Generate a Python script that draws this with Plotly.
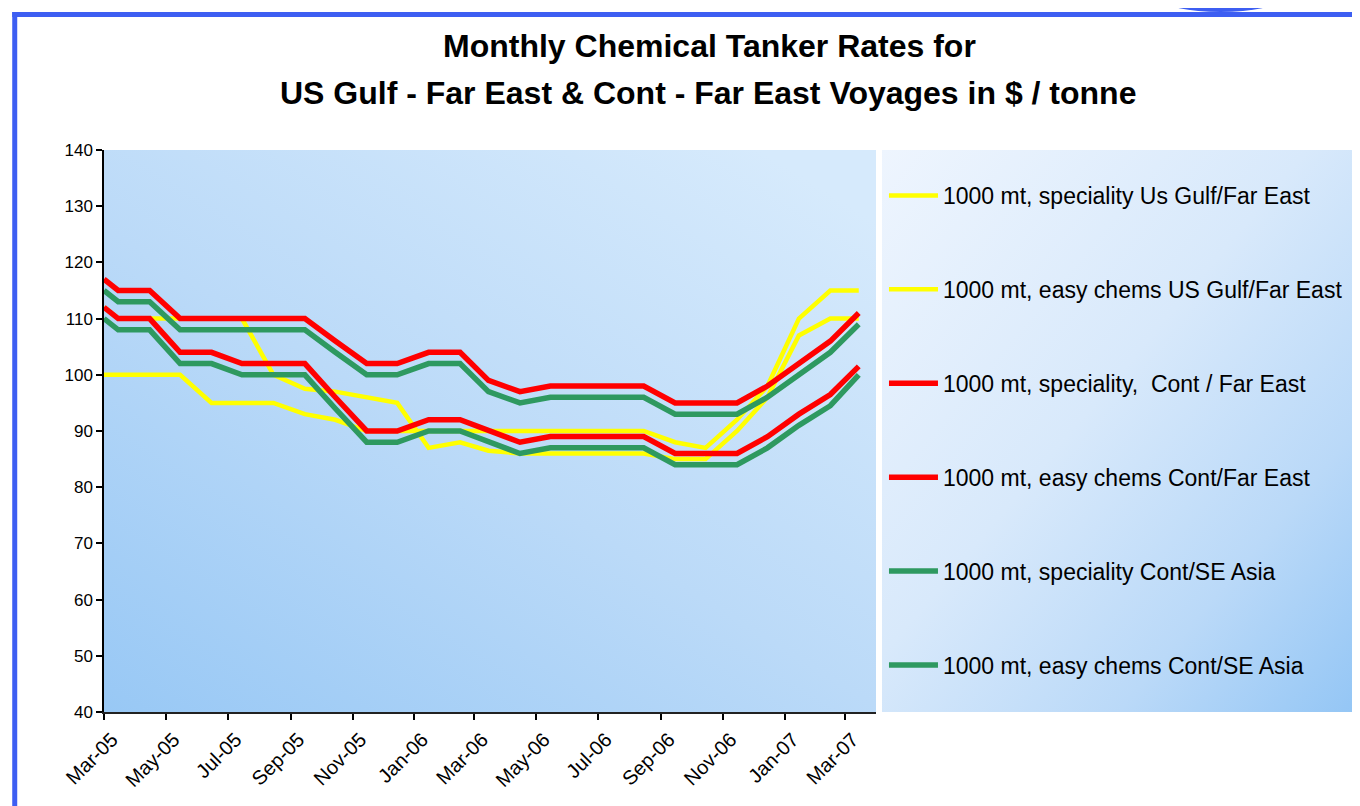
import base64
import pandas as pd
import plotly.graph_objects as go

# ---------------- data ----------------
# first observation on 1 Mar 2005, then mid-month observations Mar-05 .. Mar-07
dates = ["2005-03-01"] + [d.strftime("%Y-%m-%d") for d in
                          pd.date_range("2005-03-01", "2007-03-01", freq="MS") + pd.Timedelta(days=14)]

spec_usg_fe = [112, 110, 110, 110, 110, 110, 100, 97.5, 97, 96, 95, 87, 88, 86.5, 86, 86,
               86, 86, 86, 85, 85, 90, 96, 107, 110, 110]
easy_usg_fe = [100, 100, 100, 100, 95, 95, 95, 93, 92, 90, 90, 90, 90, 90, 90, 90,
               90, 90, 90, 88, 87, 92, 98, 110, 115, 115]
spec_cont_fe = [117, 115, 115, 110, 110, 110, 110, 110, 106, 102, 102, 104, 104, 99, 97, 98,
                98, 98, 98, 95, 95, 95, 98, 102, 106, 111]
easy_cont_fe = [112, 110, 110, 104, 104, 102, 102, 102, 96, 90, 90, 92, 92, 90, 88, 89,
                89, 89, 89, 86, 86, 86, 89, 93, 96.5, 101.5]
spec_cont_sea = [115, 113, 113, 108, 108, 108, 108, 108, 104, 100, 100, 102, 102, 97, 95, 96,
                 96, 96, 96, 93, 93, 93, 96, 100, 104, 109]
easy_cont_sea = [110, 108, 108, 102, 102, 100, 100, 100, 94, 88, 88, 90, 90, 88, 86, 87,
                 87, 87, 87, 84, 84, 84, 87, 91, 94.5, 100]

series_names = [
    "1000 mt, speciality Us Gulf/Far East",
    "1000 mt, easy chems US Gulf/Far East",
    "1000 mt, speciality,  Cont / Far East",
    "1000 mt, easy chems Cont/Far East",
    "1000 mt, speciality Cont/SE Asia",
    "1000 mt, easy chems Cont/SE Asia",
]
series_values = [spec_usg_fe, easy_usg_fe, spec_cont_fe, easy_cont_fe, spec_cont_sea, easy_cont_sea]
series_colors = ["#FFFF00", "#FFFF00", "#FF0000", "#FF0000", "#2E9960", "#2E9960"]
series_widths = [4.5, 4.5, 5.5, 5.5, 5.5, 5.5]

tick_dates = ["2005-03-01", "2005-05-01", "2005-07-01", "2005-09-01", "2005-11-01", "2006-01-01",
              "2006-03-01", "2006-05-01", "2006-07-01", "2006-09-01", "2006-11-01", "2007-01-01",
              "2007-03-01"]
tick_labels = ["Mar-05", "May-05", "Jul-05", "Sep-05", "Nov-05", "Jan-06", "Mar-06", "May-06",
               "Jul-06", "Sep-06", "Nov-06", "Jan-07", "Mar-07"]

title_lines = ["Monthly Chemical Tanker Rates for",
               "US Gulf - Far East & Cont - Far East Voyages in $ / tonne"]

# ---------------- layout geometry (pixels of the 1360x806 window) ----------------
OFF = 8                      # default body margin of the html page
W, H = 1360 - OFF, 806 - OFF
PL, PR, PT, PB = 104, 878, 150, 712   # plot area in window pixels


def px_x(x):
    return (x - PL) / (PR - PL)


def px_y(y):
    return (PB - y) / (PB - PT)


def grad_svg(w, h, x1, y1, x2, y2, stops):
    st = "".join(f'<stop offset="{o}" stop-color="{c}"/>' for o, c in stops)
    svg = (f'<svg xmlns="http://www.w3.org/2000/svg" width="{w}" height="{h}" '
           f'viewBox="0 0 {w} {h}" preserveAspectRatio="none"><defs>'
           f'<linearGradient id="g" x1="{x1}" y1="{y1}" x2="{x2}" y2="{y2}">{st}</linearGradient>'
           f'</defs><rect x="0" y="0" width="{w}" height="{h}" fill="url(#g)"/></svg>')
    return "data:image/svg+xml;base64," + base64.b64encode(svg.encode()).decode()


plot_bg = grad_svg(774, 562, 0, 1, 0.85, 0,
                   [(0, "#98C8F5"), (0.5, "#BBDAF8"), (1, "#D6EAFC")])
legend_bg = grad_svg(474, 562, 0, 0, 1, 1,
                     [(0, "#EEF5FE"), (0.45, "#D8E9FB"), (0.75, "#BAD9F8"), (1, "#94C6F5")])

fig = go.Figure()
for name, vals, col, wid in zip(series_names, series_values, series_colors, series_widths):
    fig.add_trace(go.Scatter(x=dates, y=vals, mode="lines", name=name, legendgroup=name,
                             line=dict(color=col, width=wid)))

font_family = "Liberation Sans, Arial, sans-serif"

fig.update_layout(
    width=W, height=H, autosize=False,
    margin=dict(l=PL - OFF, r=W - (PR - OFF), t=PT - OFF, b=H - (PB - OFF), pad=0),
    paper_bgcolor="white",
    plot_bgcolor="rgba(0,0,0,0)",
    font=dict(family=font_family, color="black"),
    showlegend=True,
    legend=dict(x=px_x(886), y=px_y(174), xanchor="left", yanchor="top",
                bgcolor="rgba(0,0,0,0)", borderwidth=0,
                font=dict(size=23, family=font_family, color="black"),
                tracegroupgap=61, itemwidth=49, traceorder="grouped"),
    xaxis=dict(type="date", range=["2005-03-01", "2007-04-01"],
               tickmode="array", tickvals=tick_dates, ticktext=tick_labels,
               tickangle=-45, ticks="outside", ticklen=6, tickwidth=1.5, tickcolor="black",
               ticklabelshift=8,
               showline=True, linecolor="#222222", linewidth=2, showgrid=False, zeroline=False,
               tickfont=dict(size=20, family=font_family)),
    yaxis=dict(range=[40, 140], dtick=10, tick0=40, ticks="outside", ticklen=6, tickwidth=1.5,
               tickcolor="black", showline=True, linecolor="black", linewidth=1.5,
               showgrid=False, zeroline=False, tickfont=dict(size=17, family=font_family)),
    images=[
        dict(source=plot_bg, xref="paper", yref="paper", x=0, y=1, sizex=1, sizey=1,
             sizing="stretch", layer="below", xanchor="left", yanchor="top"),
        dict(source=legend_bg, xref="paper", yref="paper", x=px_x(884), y=1,
             sizex=px_x(1358) - px_x(884), sizey=1, sizing="stretch", layer="below",
             xanchor="left", yanchor="top"),
    ],
    shapes=[
        # blue frame (top and left)
        dict(type="line", xref="paper", yref="paper", x0=px_x(12), x1=px_x(1370),
             y0=px_y(14.5), y1=px_y(14.5), line=dict(color="#3D5EF2", width=5)),
        dict(type="line", xref="paper", yref="paper", x0=px_x(14.5), x1=px_x(14.5),
             y0=px_y(12), y1=px_y(820), line=dict(color="#3D5EF2", width=5)),
        # decorative blob at top right
        dict(type="circle", xref="paper", yref="paper", x0=px_x(1165), x1=px_x(1282),
             y0=px_y(-14), y1=px_y(12), fillcolor="#3D5EF2", line=dict(width=0)),
    ],
    annotations=[
        dict(text=f"<b>{title_lines[0]}</b>", xref="paper", yref="paper", x=px_x(711), y=px_y(46),
             xanchor="center", yanchor="middle", showarrow=False,
             font=dict(size=32, family=font_family, color="black")),
        dict(text=f"<b>{title_lines[1]}</b>", xref="paper", yref="paper", x=px_x(710), y=px_y(93),
             xanchor="center", yanchor="middle", showarrow=False,
             font=dict(size=32, family=font_family, color="black")),
    ],
)

fig.write_html("out.html")
